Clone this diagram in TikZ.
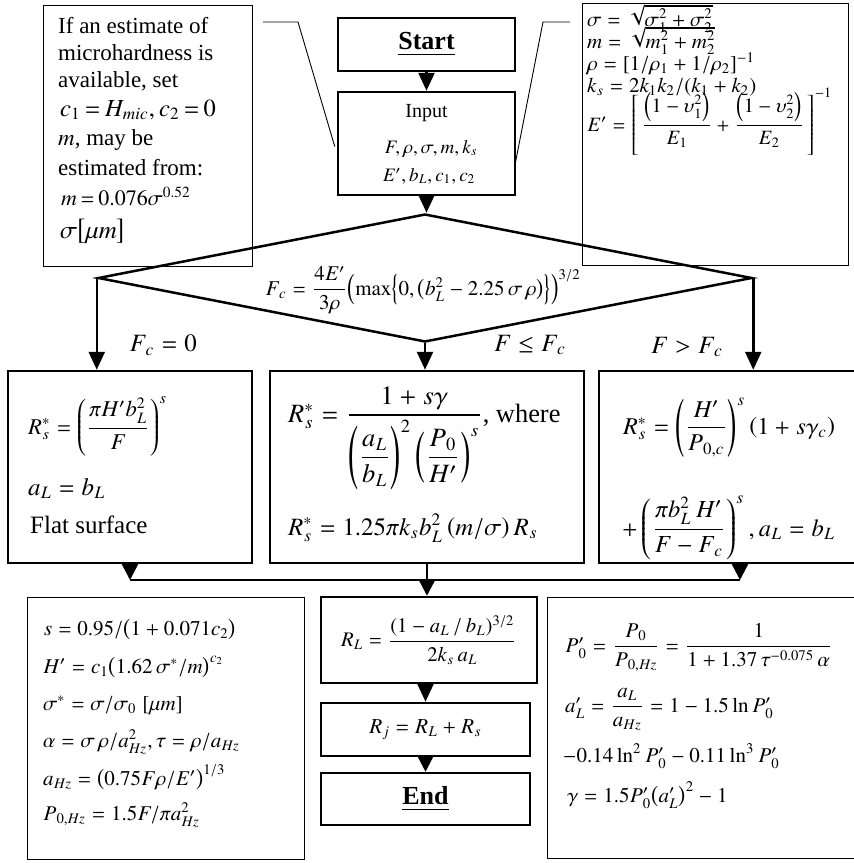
\documentclass[tikz,border=0pt]{standalone}
\usepackage{amsmath}
\usepackage{graphicx}
\usepackage{txfonts}
\usepackage[no-math]{fontspec}
\setmainfont{Liberation Serif}
\usetikzlibrary{shapes.geometric,arrows.meta}
\newcommand\fsz[1]{\fontsize{#1}{#1}\selectfont}
\newcommand\sz[2]{\scalebox{\fpeval{#1/10}}{\fontsize{10}{12}\selectfont #2}}
\newcommand\tightmath{\thickmuskip=3mu plus 2mu\medmuskip=2.5mu plus 1mu}
\begin{document}
\begin{tikzpicture}[x=1pt,y=-1pt,
  thinbox/.style={draw, line width=1pt, inner sep=0pt},
  thickbox/.style={draw, line width=2.5pt, inner sep=0pt},
  arr/.style={line width=2.5pt, -{Triangle[length=18pt,width=16pt]}},
  arrs/.style={line width=2.5pt, -{Triangle[length=16pt,width=16pt]}},
  conn/.style={line width=2.5pt},
  callout/.style={line width=0.9pt},
  txt/.style={inner sep=0pt, anchor=base west},
  ctr/.style={inner sep=0pt}
]
\useasboundingbox (0,0) rectangle (854,863);

% ---------- boxes ----------
\node[thinbox, minimum width=209pt, minimum height=261pt] (note) at (147.5,135.5) {};
\node[thickbox, minimum width=177pt, minimum height=53pt] (start) at (426.5,44.5) {\fsz{26}\textbf{\underline{Start}}};
\node[thickbox, minimum width=177pt, minimum height=103pt] (input) at (426.5,143.5) {};
\node[thinbox, minimum width=266pt, minimum height=262pt] (defs) at (715,134) {};
\node[diamond, draw, line width=2.5pt, inner sep=0pt, minimum width=654pt, minimum height=128pt] (dec) at (425,278) {};
\node[thickbox, minimum width=244pt, minimum height=192pt] (lbox) at (130,467) {};
\node[thickbox, minimum width=314pt, minimum height=192pt] (mbox) at (427,467) {};
\node[thickbox, minimum width=261pt, minimum height=192pt] (rbox) at (729.5,467) {};
\node[thickbox, minimum width=216pt, minimum height=86pt] (rl) at (429,640)
  {\sz{20.7}{$R_L = \dfrac{(1 - a_L\,/\,b_L)^{3/2}}{2k_s\,a_L}$}};
\node[thickbox, minimum width=209pt, minimum height=53pt] (rj) at (425.5,729.5)
  {\sz{21.3}{$R_j = R_L + R_s$}};
\node[thickbox, minimum width=209pt, minimum height=52pt] (end) at (425.5,799)
  {\fsz{26}\textbf{\underline{End}}};
\node[thinbox, minimum width=277pt, minimum height=262pt] (bl) at (165.5,728) {};
\node[thinbox, minimum width=313pt, minimum height=261pt] (br) at (703.5,727.5) {};

% ---------- note text ----------
\node[txt] (n1) at (58,33) {\fsz{23}If an estimate of};
\node[txt] (n2) at (58,60) {\fsz{23}microhardness is};
\node[txt] (n3) at (58,87) {\fsz{23}available, set};
\node[txt] (n4) at (60,116) {\sz{24.5}{\tightmath$c_1 = H_{mic}, c_2 = 0$}};
\node[txt] (n5) at (58,145) {\fsz{23}$m$, may be};
\node[txt] (n6) at (58,175) {\fsz{23}estimated from:};
\node[txt] (n7) at (61,205) {\sz{22}{\tightmath$m = 0.076\sigma^{0.52}$}};
\node[txt] (n8) at (60,238) {\sz{25}{$\sigma\bigl[\mu m\bigr]$}};

% ---------- input text ----------
\node[ctr, anchor=base] (in1) at (426.5,117) {\fsz{20}Input};
\node[ctr, anchor=base] (in2) at (431,153) {\sz{19}{$F,\rho,\sigma,m,k_s$}};
\node[ctr, anchor=base] (in3) at (429,181) {\sz{19}{$E',b_L,c_1,c_2$}};

% ---------- definitions text ----------
\node[txt] (d1) at (587,26) {\sz{21}{$\sigma = \sqrt{\smash[b]{\sigma_1^2+\sigma_2^2}}$}};
\node[txt] (d2) at (587,48) {\sz{21}{$m = \sqrt{\smash[b]{m_1^2+m_2^2}}$}};
\node[txt] (d3) at (587,70) {\sz{21}{$\rho = [1/\rho_1 + 1/\rho_2]^{-1}$}};
\node[txt] (d4) at (587,92) {\sz{21}{$k_s = 2k_1k_2/(k_1+k_2)$}};
\node[txt] (d5) at (587,131) {\sz{20.3}{$E' = \left[\,\dfrac{\left(1-\upsilon_1^2\right)}{E_1} + \dfrac{\left(1-\upsilon_2^2\right)}{E_2}\,\right]^{-1}$}};

% ---------- decision ----------
\node[ctr] (fc) at (423,290) {\sz{21}{$F_c = \dfrac{4E'}{3\rho}\Bigl(\max\Bigl\{0,\bigl(b_L^2 - 2.25\,\sigma\,\rho\bigr)\Bigr\}\Bigr)^{3/2}$}};

% ---------- branch labels ----------
\node[ctr] (lab1) at (163,345) {\sz{24.9}{$F_c = 0$}};
\node[ctr] (lab2) at (530,345) {\sz{24.9}{$F \le F_c$}};
\node[ctr] (lab3) at (687,347) {\sz{24.9}{$F > F_c$}};

% ---------- left box text ----------
\node[txt] (l1) at (28,434) {\sz{22.6}{$R_s^* = \left(\dfrac{\pi H' b_L^2}{F}\right)^{s}$}};
\node[txt] (l2) at (28,495) {\sz{24.9}{$a_L = b_L$}};
\node[txt] (l3) at (30,533) {\fsz{25}Flat surface};

% ---------- middle box text ----------
\node[txt] (m1) at (288,422) {\sz{26.4}{$R_s^* = \dfrac{1+s\gamma}{\left(\dfrac{a_L}{b_L}\right)^2\left(\dfrac{P_0}{H'}\right)^s}$, where}};
\node[txt] (m2) at (288,535) {\sz{24.9}{$R_s^* = 1.25\pi k_s b_L^2\left(m/\sigma\right)R_s$}};

% ---------- right box text ----------
\node[txt] (r1) at (623,434) {\sz{24.1}{$R_s^* = \left(\dfrac{H'}{P_{0,c}}\right)^s\left(1+s\gamma_c\right)$}};
\node[txt] (r2) at (622,536) {\sz{24.5}{$+\left(\dfrac{\pi b_L^2\,H'}{F-F_c}\right)^s, a_L = b_L$}};

% ---------- bottom-left text ----------
\node[txt] (b1) at (43,635) {\sz{21}{$s = 0.95/\bigl(1+0.071c_2\bigr)$}};
\node[txt] (b2) at (43,673) {\sz{21}{$H' = c_1\bigl(1.62\,\sigma^*/m\bigr)^{c_2}$}};
\node[txt] (b3) at (43,710) {\sz{21}{$\sigma^* = \sigma/\sigma_0\;[\mu m]$}};
\node[txt] (b4) at (43,747) {\sz{21}{$\alpha = \sigma\,\rho/a_{Hz}^2, \tau = \rho/a_{Hz}$}};
\node[txt] (b5) at (43,785) {\sz{21}{$a_{Hz} = \bigl(0.75F\rho/E'\bigr)^{1/3}$}};
\node[txt] (b6) at (43,820) {\sz{21}{$P_{0,Hz} = 1.5F/\pi a_{Hz}^2$}};

% ---------- bottom-right text ----------
\node[txt] (p1) at (565,652) {\sz{21}{$P_0^{\prime} = \dfrac{P_0}{P_{0,Hz}} = \dfrac{1}{1+1.37\,\tau^{-0.075}\,\alpha}$}};
\node[txt] (p2) at (565,712) {\sz{21}{$a_L^{\prime} = \dfrac{a_L}{a_{Hz}} = 1-1.5\ln P_0^{\prime}$}};
\node[txt] (p3) at (563,762) {\sz{21}{$-0.14\ln^2 P_0^{\prime} - 0.11\ln^3 P_0^{\prime}$}};
\node[txt] (p4) at (567,802) {\sz{21}{$\gamma = 1.5P_0^{\prime}\bigl(a_L^{\prime}\bigr)^2 - 1$}};

% ---------- connectors ----------
\draw[arr] (start) -- (input);
\draw[arr] (input.south) -- (input.south |- dec.north);
\draw[arr] (dec.west) -- (dec.west |- lbox.north);
\draw[arr] (dec.south) -- (dec.south |- mbox.north);
\draw[arr] (dec.east) -- (dec.east |- rbox.north);

\coordinate (mL) at (130,580);
\coordinate (mR) at (740,580);
\draw[arrs] (lbox.south) -- (mL);
\draw[arrs] (mR |- rbox.south) -- (mR);
\draw[conn] (mL) -- (mR);
\draw[conn] (mbox.south) -- (mbox.south |- mL);
\draw[arrs] (mbox.south |- mL) -- (mbox.south |- rl.north);
\draw[arr] (rl.south -| rj.north) -- (rj.north);
\draw[arrs] (rj) -- (end);

% ---------- callout lines ----------
\coordinate (lcA) at (263,22);
\coordinate (lcB) at (298,22);
\draw[callout] (lcA) -- (lcB) -- ([xshift=-2pt,yshift=-3pt]input.west);
\coordinate (rcA) at (570,22);
\coordinate (rcB) at (543,22);
\draw[callout] (rcA) -- (rcB) -- ([xshift=-1pt,yshift=-20pt]input.east);
\end{tikzpicture}
\end{document}
